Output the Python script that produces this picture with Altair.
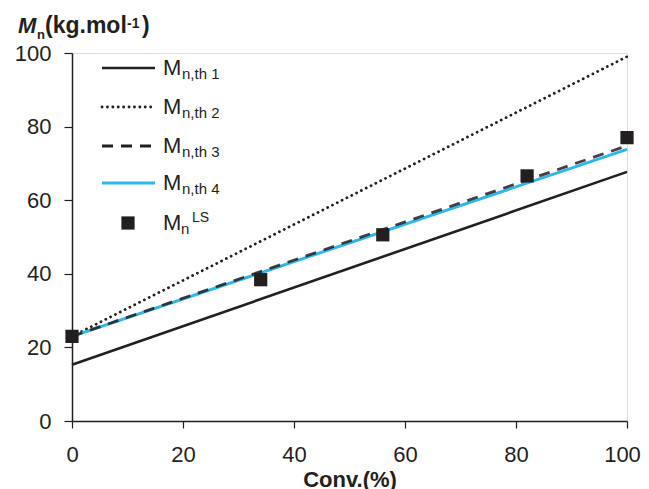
import altair as alt
import pandas as pd

# ---- data ----
conv_ends = [0, 100]
mn_th1 = [15.3, 67.7]
mn_th2 = [23.0, 99.0]
mn_th3 = [23.0, 74.8]
mn_th4 = [23.0, 73.8]

conv_ls = [0, 34, 56, 82, 100]
mn_ls = [23.0, 38.4, 50.6, 66.6, 77.0]

series_names = ["th1", "th2", "th3", "th4"]
legend_subs = ["n,th 1", "n,th 2", "n,th 3", "n,th 4"]
x_ticks = [0, 20, 40, 60, 80, 100]
y_ticks = [0, 20, 40, 60, 80, 100]

# ---- style ----
INK = "#231f20"
CYAN = "#2db7ea"
FONT = "Liberation Sans"
W, H = 555, 368

lines_df = pd.DataFrame({
    "series": [s for s in series_names for _ in conv_ends],
    "conv": conv_ends * 4,
    "mn": mn_th1 + mn_th2 + mn_th3 + mn_th4,
})
ls_df = pd.DataFrame({"conv": conv_ls, "mn": mn_ls})
one = pd.DataFrame({"a": [0]})

xs = alt.Scale(domain=[0, 100], nice=False, zero=False)
ys = alt.Scale(domain=[0, 100], nice=False, zero=False)

xaxis = alt.Axis(values=x_ticks, title="Conv.(%)", grid=False, tickSize=7,
                 tickColor=INK, tickWidth=1.2, domainColor=INK, domainWidth=1.5,
                 labelFont=FONT, labelFontSize=22, labelColor=INK, labelPadding=16,
                 labelOffset={"condition": {"test": "datum.value === 100", "value": -5}, "value": 0},
                 labelFlush=False, titleFont=FONT, titleFontSize=22,
                 titleFontWeight="bold", titleColor=INK, titlePadding=4)
yaxis = alt.Axis(values=y_ticks, title=None, grid=False, tickSize=8,
                 tickColor=INK, tickWidth=1.2, domainColor=INK, domainWidth=1.5,
                 labelFont=FONT, labelFontSize=22, labelColor=INK, labelPadding=13,
                 labelFlush=False)


def line_layer(name, **kw):
    return alt.Chart(lines_df).transform_filter(alt.datum.series == name).mark_line(**kw).encode(
        x=alt.X("conv:Q", scale=xs, axis=xaxis),
        y=alt.Y("mn:Q", scale=ys, axis=yaxis),
    )


l1 = line_layer("th1", color=INK, strokeWidth=2.6)
l2 = line_layer("th2", color=INK, strokeWidth=2.8, strokeDash=[0.1, 5.3], strokeCap="round")
l4 = line_layer("th4", color=CYAN, strokeWidth=3)
l3 = line_layer("th3", color=INK, strokeWidth=2.8, strokeDash=[11, 8], opacity=0.85)

pts = alt.Chart(ls_df).mark_square(size=175, color=INK, opacity=1).encode(
    x=alt.X("conv:Q", scale=xs, axis=xaxis),
    y=alt.Y("mn:Q", scale=ys, axis=yaxis),
)

# ---- custom legend (pixel layout in the plot area) ----
row_y = [15, 54, 93, 130, 170]
lx0, lx1, tx = 30, 83, 91
legend_line_styles = [
    dict(color=INK, strokeWidth=2.6),
    dict(color=INK, strokeWidth=2.8, strokeDash=[0.1, 5.3], strokeCap="round"),
    dict(color=INK, strokeWidth=2.8, strokeDash=[11, 8]),
    dict(color=CYAN, strokeWidth=3),
]
legend_layers = []
for i, st in enumerate(legend_line_styles):
    legend_layers.append(alt.Chart(one).mark_rule(**st).encode(
        x=alt.value(lx0), x2=alt.value(lx1), y=alt.value(row_y[i])))
    legend_layers.append(alt.Chart(one).mark_text(
        text="M", font=FONT, fontSize=22, color=INK, align="left", baseline="alphabetic").encode(
        x=alt.value(tx), y=alt.value(row_y[i] + 7)))
    legend_layers.append(alt.Chart(one).mark_text(
        text=legend_subs[i], font=FONT, fontSize=15, color=INK, align="left", baseline="alphabetic").encode(
        x=alt.value(tx + 19), y=alt.value(row_y[i] + 11)))
legend_layers.append(alt.Chart(one).mark_square(size=175, color=INK, opacity=1).encode(
    x=alt.value(56), y=alt.value(row_y[4])))
legend_layers.append(alt.Chart(one).mark_text(
    text="M", font=FONT, fontSize=22, color=INK, align="left", baseline="alphabetic").encode(
    x=alt.value(tx), y=alt.value(row_y[4] + 7)))
legend_layers.append(alt.Chart(one).mark_text(
    text="n", font=FONT, fontSize=15, color=INK, align="left", baseline="alphabetic").encode(
    x=alt.value(tx + 18), y=alt.value(row_y[4] + 11)))
legend_layers.append(alt.Chart(one).mark_text(
    text="LS", font=FONT, fontSize=14, color=INK, align="left", baseline="alphabetic").encode(
    x=alt.value(tx + 29), y=alt.value(row_y[4] - 1)))

# ---- y-axis title: Mn(kg.mol-1) ----
title_layers = [
    alt.Chart(one).mark_text(text="M", font=FONT, fontSize=22, fontWeight="bold", fontStyle="italic",
                             color=INK, align="left", baseline="alphabetic").encode(
        x=alt.value(-54), y=alt.value(-20)),
    alt.Chart(one).mark_text(text="n", font=FONT, fontSize=13, fontWeight="bold",
                             color=INK, align="left", baseline="alphabetic").encode(
        x=alt.value(-35), y=alt.value(-14)),
    alt.Chart(one).mark_text(text="(kg.mol", font=FONT, fontSize=23, fontWeight="bold",
                             color=INK, align="left", baseline="alphabetic").encode(
        x=alt.value(-27), y=alt.value(-20)),
    alt.Chart(one).mark_text(text="-1", font=FONT, fontSize=14, fontWeight="bold",
                             color=INK, align="left", baseline="alphabetic").encode(
        x=alt.value(55), y=alt.value(-25)),
    alt.Chart(one).mark_text(text=")", font=FONT, fontSize=23, fontWeight="bold",
                             color=INK, align="left", baseline="alphabetic").encode(
        x=alt.value(70), y=alt.value(-20)),
]

chart = alt.layer(l1, l2, l4, l3, pts, *legend_layers, *title_layers).properties(
    width=W, height=H,
    autosize=alt.AutoSizeParams(type="none"),
    padding={"left": 64, "top": 45, "right": 14, "bottom": 68},
).configure_view(stroke=None).configure(background="white")

chart.save("out.html", embed_options={"renderer": "svg", "actions": False})
